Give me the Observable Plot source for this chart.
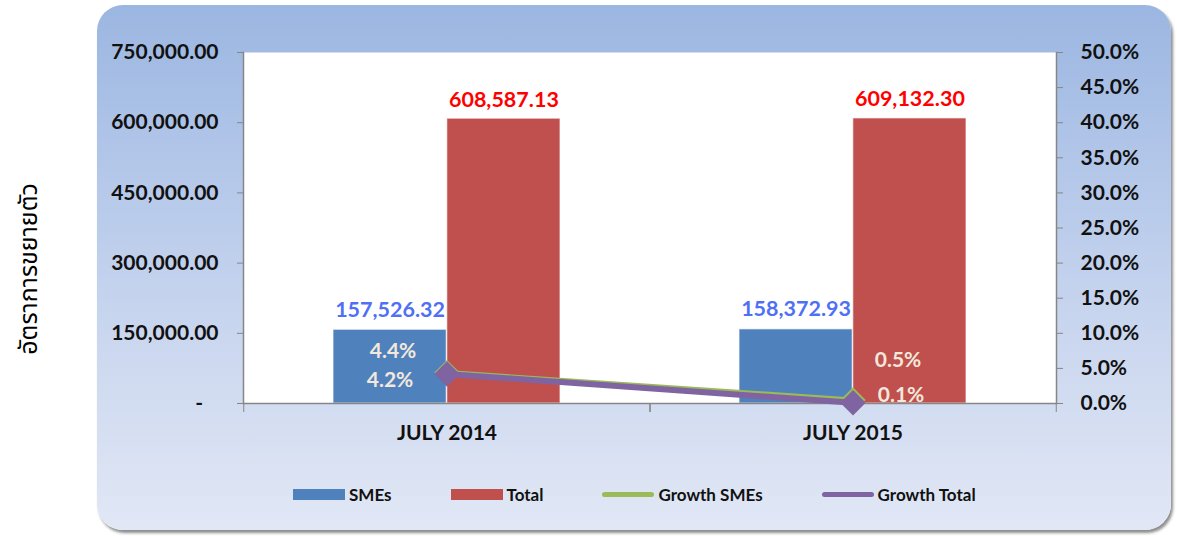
<!DOCTYPE html>
<html><head><meta charset="utf-8">
<script src="https://cdn.jsdelivr.net/npm/d3@7"></script>
<script src="https://cdn.jsdelivr.net/npm/@observablehq/plot@0.6"></script>
<style>
body{margin:0;background:#fff;}
#wrap{position:relative;width:1177px;height:536px;overflow:hidden;font-family:Lato,"Open Sans",sans-serif;}
#panel{position:absolute;left:97px;top:5px;width:1074px;height:525px;border-radius:26px;
  background:linear-gradient(to bottom,#9bb6e1 0%,#b6c9ea 35%,#cfdaf0 70%,#e1e7f5 100%);
  box-shadow:2px 3px 3px rgba(0,0,0,0.45);}
#ytitle{position:absolute;left:29px;top:269px;transform:translate(-50%,-50%) rotate(-90deg);
  font-size:25px;white-space:nowrap;font-family:"Noto Sans Thai","Noto Sans","DejaVu Sans",sans-serif;color:#000;}
#chart{position:absolute;left:0;top:0;}
#legend{position:absolute;top:484px;left:293px;display:flex;align-items:center;gap:59px;
  font-size:17px;font-weight:bold;color:#111;}
#legend .item{display:flex;align-items:center;}
#legend .sw{display:inline-block;width:52px;margin-right:4px;}
</style></head>
<body>
<div id="wrap">
  <div id="panel"></div>
  <div id="ytitle">อัตราการขยายตัว</div>
  <div id="chart"></div>
  <div id="legend"></div>
</div>
<script>
const categories = ["JULY 2014", "JULY 2015"];
const seriesNames = ["SMEs", "Total"];
const smesValues = [157526.32, 158372.93];
const totalValues = [608587.13, 609132.30];
const growthSmes = [0.044, 0.005];
const growthTotal = [0.042, 0.001];
const leftTicks = [0, 150000, 300000, 450000, 600000, 750000];
const rightTicks = [0, 0.05, 0.10, 0.15, 0.20, 0.25, 0.30, 0.35, 0.40, 0.45, 0.50];
const legendNames = ["SMEs", "Total", "Growth SMEs", "Growth Total"];

const colors = {SMEs: "#4f81bd", Total: "#c0504d", gS: "#9bbb59", gT: "#8064a2"};
const W = 1177, H = 460, mL = 243, mR = 121, mT = 52, mB = 57;
const plotW = W - mL - mR;
const step = plotW / categories.length;
const pInner = 0.44, pOuter = 0.22;
const bw = step * (1 - pInner);
const yMax = leftTicks[leftTicks.length - 1];
const K = yMax / rightTicks[rightTicks.length - 1];
const FS = 21;

const smesRows = categories.map((c, i) => ({cat: c, value: smesValues[i]}));
const totalRows = categories.map((c, i) => ({cat: c, value: totalValues[i]}));
const gSRows = categories.map((c, i) => ({cat: c, g: growthSmes[i]}));
const gTRows = categories.map((c, i) => ({cat: c, g: growthTotal[i]}));

const fmtNum = d3.format(",.2f");
const fmtLeft = d => d === 0 ? "-\u00a0\u00a0\u00a0" : fmtNum(d);
const fmtPct = d => (d * 100).toFixed(1) + "%";

// label offsets (px) for growth labels per point
const gSOff = [[-54, -21], [45, -40]];
const gTOff = [[-57, 6], [48, -8]];
const growthLabels = [];
[[gSRows, gSOff], [gTRows, gTOff]].forEach(([rows, off]) => {
  rows.forEach((r, i) => {
    growthLabels.push(Plot.text([r], {x: "cat", y: d => d.g * K, text: d => fmtPct(d.g),
      dx: off[i][0], dy: off[i][1], fill: "#f3e8dc", fontSize: FS, fontWeight: "bold"}));
  });
});

const chart = Plot.plot({
  width: W, height: H,
  marginLeft: mL, marginRight: mR, marginTop: mT, marginBottom: mB,
  x: {domain: categories, type: "band", paddingInner: pInner, paddingOuter: pOuter, axis: null},
  y: {domain: [0, yMax], axis: null},
  style: {background: "transparent", fontFamily: "Lato, 'Open Sans', sans-serif", fontSize: FS + "px", fontWeight: "bold", color: "#000"},
  marks: [
    Plot.frame({fill: "white"}),
    Plot.barY(smesRows, {x: "cat", y: "value", fill: colors.SMEs, insetRight: bw / 2, stroke: "#ffffff", strokeOpacity: 0.7, strokeWidth: 1}),
    Plot.barY(totalRows, {x: "cat", y: "value", fill: colors.Total, insetLeft: bw / 2, stroke: "#ffffff", strokeOpacity: 0.7, strokeWidth: 1}),
    Plot.frame({anchor: "left", stroke: "#868686", strokeWidth: 1.5}),
    Plot.frame({anchor: "right", stroke: "#868686", strokeWidth: 1.5}),
    Plot.frame({anchor: "bottom", stroke: "#868686", strokeWidth: 1.5}),
    Plot.axisY(leftTicks, {anchor: "left", tickFormat: fmtLeft, tickSize: 6, tickPadding: 19, stroke: "#868686", label: null, fontSize: FS, fill: "#111"}),
    Plot.axisY(rightTicks.map(t => t * K), {anchor: "right", tickFormat: d => fmtPct(d / K), tickSize: 6, tickPadding: 18, stroke: "#868686", label: null, fontSize: FS, fill: "#111"}),
    Plot.axisX({tickSize: 0, tickPadding: 22, label: null, fontSize: FS, fill: "#111"}),
    Plot.axisX({tickSize: 9, tickFormat: () => "", dx: -step / 2, stroke: "#868686", label: null}),
    Plot.axisX({tickSize: 9, tickFormat: () => "", dx: step / 2, stroke: "#868686", label: null}),
    Plot.text(smesRows, {x: "cat", y: "value", text: d => fmtNum(d.value), dx: -bw / 4, dy: -20, fill: "#4f70f5", fontSize: 21.5, fontWeight: "bold"}),
    Plot.text(totalRows, {x: "cat", y: "value", text: d => fmtNum(d.value), dx: bw / 4, dy: -19, fill: "#ff0000", fontSize: 21.5, fontWeight: "bold"}),
    Plot.line(gSRows, {x: "cat", y: d => d.g * K, stroke: colors.gS, strokeWidth: 5}),
    Plot.dot(gSRows, {x: "cat", y: d => d.g * K, symbol: "diamond2", r: 10.5, fill: colors.gS, stroke: colors.gS}),
    Plot.line(gTRows, {x: "cat", y: d => d.g * K, stroke: colors.gT, strokeWidth: 6}),
    Plot.dot(gTRows, {x: "cat", y: d => d.g * K, symbol: "diamond2", r: 10.5, fill: colors.gT, stroke: colors.gT}),
    ...growthLabels
  ]
});
document.getElementById("chart").appendChild(chart);

const legend = document.getElementById("legend");
const legendStyles = [
  {color: colors.SMEs, h: 11, r: 0},
  {color: colors.Total, h: 11, r: 0},
  {color: colors.gS, h: 5, r: 3},
  {color: colors.gT, h: 5, r: 3}
];
legendNames.forEach((name, i) => {
  const item = document.createElement("div");
  item.className = "item";
  const sw = document.createElement("span");
  sw.className = "sw";
  sw.style.background = legendStyles[i].color;
  sw.style.height = legendStyles[i].h + "px";
  sw.style.borderRadius = legendStyles[i].r + "px";
  item.appendChild(sw);
  item.appendChild(document.createTextNode(name));
  legend.appendChild(item);
});
</script>
</body></html>
